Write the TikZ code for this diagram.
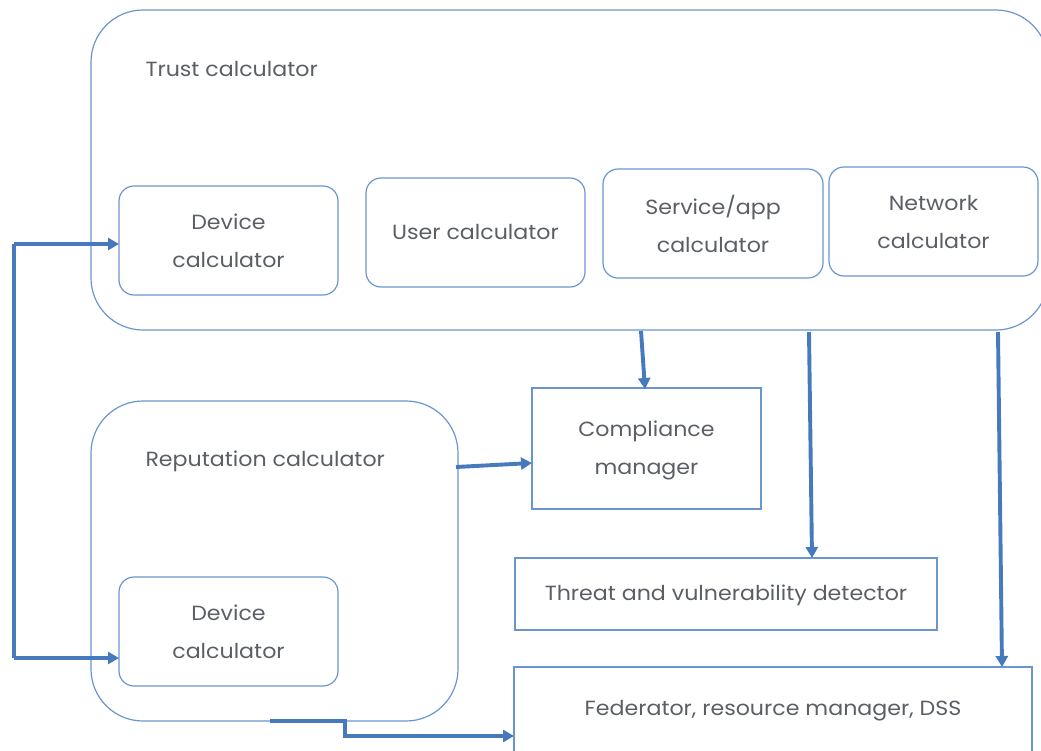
\documentclass[tikz,border=0pt]{standalone}
\usepackage{fontspec}
\setmainfont{Poppins}[FakeStretch=1.08]
\usetikzlibrary{arrows.meta}
\definecolor{edge}{HTML}{6A95CF}
\definecolor{flow}{HTML}{4779BD}
\definecolor{ink}{HTML}{5A5F66}
\tikzset{
  x=1pt, y=-1pt,
  label text/.style={text=ink, font=\fontsize{20.5}{38}\selectfont, align=center},
  unit/.style={draw=edge, line width=1.2pt, rounded corners=15pt},
  panel/.style={draw=edge, line width=1.2pt, rounded corners=52pt},
  plainbox/.style={draw=edge, line width=1.2pt},
  flowline/.style={draw=flow, line width=3.9pt, -{Triangle[length=11pt,width=12pt]}},
  flowplain/.style={draw=flow, line width=3.9pt},
}
\begin{document}
\begin{tikzpicture}
\useasboundingbox (0,0) rectangle (1041,750);
\clip (0,0) rectangle (1041,750);

% outer panels
\draw[panel] (91,10) rectangle (1048,330);
\node[label text, anchor=west] (trust) at (142,69) {Trust calculator};
\draw[panel] (91,401) rectangle (458,721);
\node[label text, anchor=west] (rep) at (142,461) {Reputation calculator};

% calculators inside the trust panel
\draw[unit] (119,186) rectangle (338,295);
\node[label text] (dev1) at (228.5,240.5) {Device\\calculator};
\draw[unit] (366,178) rectangle (585,287);
\node[label text] (user) at (475.5,232) {User calculator};
\draw[unit] (603,169) rectangle (823,278);
\node[label text] (svc) at (713,224) {Service/app\\calculator};
\draw[unit] (829,167) rectangle (1038,276);
\node[label text] (net) at (933.5,222) {Network\\calculator};

% calculator inside the reputation panel
\draw[unit] (119,577) rectangle (338,686);
\node[label text] (dev2) at (228.5,632) {Device\\calculator};

% managers and detectors
\draw[plainbox] (532,388) rectangle (761,509);
\node[label text] (comp) at (646.5,450) {Compliance\\manager};
\draw[plainbox] (515,558) rectangle (937,630);
\node[label text] (threat) at (726,595) {Threat and vulnerability detector};
\draw[plainbox] (514,667) rectangle (1032,770);
\node[label text] (fed) at (773,711) {Federator, resource manager, DSS};

% anchor points for the connectors
\coordinate (dev1in) at (119,244);
\coordinate (dev2in) at (119,658);
\coordinate (loopTop) at (14,244);
\coordinate (loopBot) at (14,658);
\coordinate (t1) at (641,331);
\coordinate (compin) at (645,389);
\coordinate (t2) at (809,332);
\coordinate (threatin) at (812,558);
\coordinate (t3) at (998,332);
\coordinate (fedtop) at (1002,667);
\coordinate (r1) at (456,467);
\coordinate (compleft) at (532,463);
\coordinate (r2) at (270,721);
\coordinate (r2a) at (345,721);
\coordinate (r2b) at (345,736);
\coordinate (fedleft) at (514,736);

% connectors
\draw[flowplain] (loopBot) -- (loopTop);
\draw[flowline] (loopTop) -- (dev1in);
\draw[flowline] (loopBot) -- (dev2in);
\draw[flowline] (t1) -- (compin);
\draw[flowline] (t2) -- (threatin);
\draw[flowline] (t3) -- (fedtop);
\draw[flowline] (r1) -- (compleft);
\draw[flowline] (r2) -- (r2a) -- (r2b) -- (fedleft);
\end{tikzpicture}
\end{document}
